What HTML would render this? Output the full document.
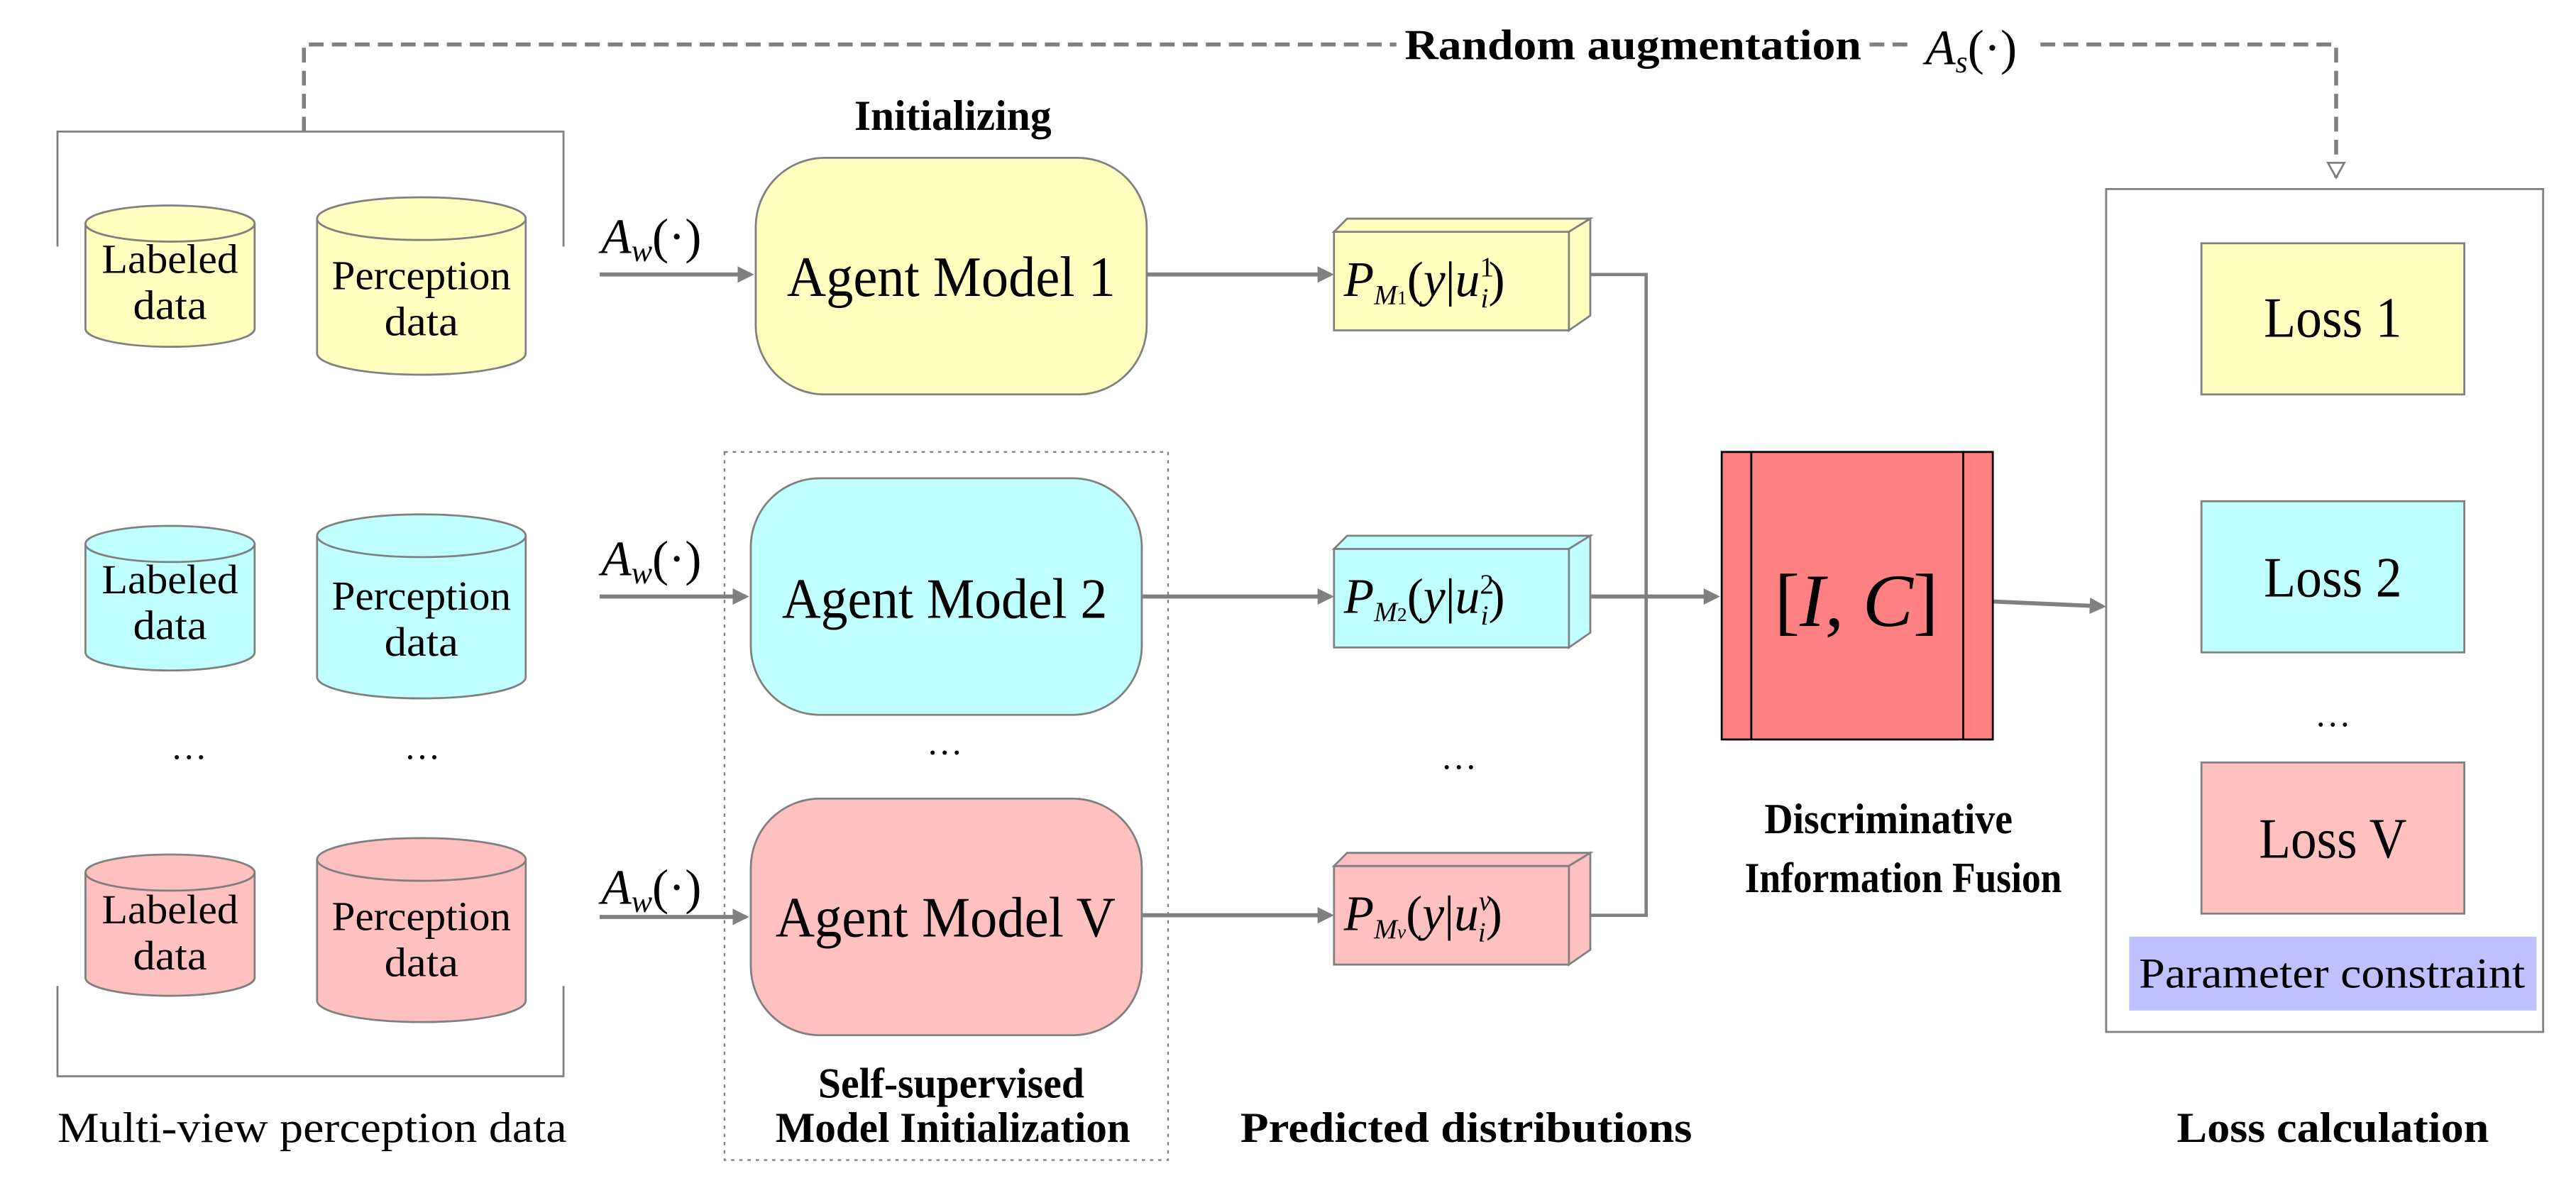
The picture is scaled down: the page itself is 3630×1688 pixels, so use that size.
<!DOCTYPE html>
<html><head><meta charset="utf-8"><style>
html,body{margin:0;padding:0;background:#fff;}
svg{display:block;}
text{font-family:"Liberation Serif",serif;fill:#000;}
.b{font-weight:bold;}
.m{font-style:italic;}
</style></head><body>
<svg width="3630" height="1688" viewBox="0 0 1568 729" xmlns="http://www.w3.org/2000/svg">
<defs>
<marker id="ar" markerWidth="10" markerHeight="10" refX="8" refY="5" orient="auto" markerUnits="userSpaceOnUse"><path d="M0,0 L10,5 L0,10 z" fill="#808080"/></marker>
<marker id="ao" markerWidth="12" markerHeight="12" refX="10" refY="6" orient="auto" markerUnits="userSpaceOnUse"><path d="M1,1 L10,6 L1,11 z" fill="#fff" stroke="#808080" stroke-width="1.2"/></marker>
</defs>
<g stroke="#808080" fill="none">
<path d="M185,80 V27 H850" stroke-width="2.4" stroke-dasharray="9,5"/>
<path d="M1138,27 H1166" stroke-width="2.4" stroke-dasharray="9,5"/>
<path d="M1242,27 H1422 V108" stroke-width="2.4" stroke-dasharray="9,5" marker-end="url(#ao)"/>
<path d="M35,150 V80 H343 V150" stroke-width="1.2"/>
<path d="M35,600 V655 H343 V600" stroke-width="1.2"/>
<rect x="441" y="275" width="270" height="431" stroke-width="1" stroke-dasharray="2,3"/>
<path d="M365,167 H457" stroke-width="2.5" marker-end="url(#ar)"/>
<path d="M365,363 H454" stroke-width="2.5" marker-end="url(#ar)"/>
<path d="M365,558 H454" stroke-width="2.5" marker-end="url(#ar)"/>
<path d="M698,167 H810" stroke-width="2.5" marker-end="url(#ar)"/>
<path d="M695,363 H810" stroke-width="2.5" marker-end="url(#ar)"/>
<path d="M695,557 H810" stroke-width="2.5" marker-end="url(#ar)"/>
<path d="M968,167 H1002 V557 H968" stroke-width="2"/>
<path d="M968,363 H1045" stroke-width="2.5" marker-end="url(#ar)"/>
<path d="M1213,366 L1280,369" stroke-width="2.5" marker-end="url(#ar)"/>
<rect x="1282" y="115" width="266" height="513" stroke-width="1.2"/>
</g>
<g stroke="#808080" stroke-width="1.2">
<g fill="#ffffc0">
<path d="M52,136 V200 A51.5,11 0 0 0 155,200 V136"/><ellipse cx="103.5" cy="136" rx="51.5" ry="11"/>
<path d="M193,133 V215 A63.5,13 0 0 0 320,215 V133"/><ellipse cx="256.5" cy="133" rx="63.5" ry="13"/>
</g>
<g fill="#c0ffff">
<path d="M52,331 V397 A51.5,11 0 0 0 155,397 V331"/><ellipse cx="103.5" cy="331" rx="51.5" ry="11"/>
<path d="M193,326 V412 A63.5,13 0 0 0 320,412 V326"/><ellipse cx="256.5" cy="326" rx="63.5" ry="13"/>
</g>
<g fill="#ffc0c0">
<path d="M52,531 V595 A51.5,11 0 0 0 155,595 V531"/><ellipse cx="103.5" cy="531" rx="51.5" ry="11"/>
<path d="M193,523 V609 A63.5,13 0 0 0 320,609 V523"/><ellipse cx="256.5" cy="523" rx="63.5" ry="13"/>
</g>
<rect x="460" y="96" width="238" height="144" rx="42" fill="#ffffc0"/>
<rect x="457" y="291" width="238" height="144" rx="42" fill="#c0ffff"/>
<rect x="457" y="486" width="238" height="144" rx="42" fill="#ffc0c0"/>
<g fill="#ffffc0"><rect x="812" y="141" width="143" height="60"/><path d="M812,141 L820,133 H968 L955,141 Z"/><path d="M955,141 L968,133 V192 L955,201 Z"/></g>
<g fill="#c0ffff"><rect x="812" y="334" width="143" height="60"/><path d="M812,334 L820,326 H968 L955,334 Z"/><path d="M955,334 L968,326 V385 L955,394 Z"/></g>
<g fill="#ffc0c0"><rect x="812" y="527" width="143" height="60"/><path d="M812,527 L820,519 H968 L955,527 Z"/><path d="M955,527 L968,519 V578 L955,587 Z"/></g>
<rect x="1048" y="275" width="165" height="175" fill="#ff8080" stroke="#000" stroke-width="1.2"/>
<line x1="1066" y1="275" x2="1066" y2="450" stroke="#000"/>
<line x1="1195" y1="275" x2="1195" y2="450" stroke="#000"/>
<rect x="1340" y="148" width="160" height="92" fill="#ffffc0"/>
<rect x="1340" y="305" width="160" height="92" fill="#c0ffff"/>
<rect x="1340" y="464" width="160" height="92" fill="#ffc0c0"/>
</g>
<rect x="1296" y="570" width="248" height="45" fill="#c0c0ff"/>
<g font-size="25">
<text x="62" y="166" textLength="83" lengthAdjust="spacingAndGlyphs">Labeled</text><text x="81" y="194" textLength="45" lengthAdjust="spacingAndGlyphs">data</text>
<text x="202" y="176" textLength="109" lengthAdjust="spacingAndGlyphs">Perception</text><text x="234" y="204" textLength="45" lengthAdjust="spacingAndGlyphs">data</text>
<text x="62" y="361" textLength="83" lengthAdjust="spacingAndGlyphs">Labeled</text><text x="81" y="389" textLength="45" lengthAdjust="spacingAndGlyphs">data</text>
<text x="202" y="371" textLength="109" lengthAdjust="spacingAndGlyphs">Perception</text><text x="234" y="399" textLength="45" lengthAdjust="spacingAndGlyphs">data</text>
<text x="62" y="562" textLength="83" lengthAdjust="spacingAndGlyphs">Labeled</text><text x="81" y="590" textLength="45" lengthAdjust="spacingAndGlyphs">data</text>
<text x="202" y="566" textLength="109" lengthAdjust="spacingAndGlyphs">Perception</text><text x="234" y="594" textLength="45" lengthAdjust="spacingAndGlyphs">data</text>
</g>
<g font-size="22" text-anchor="middle">
<text x="115" y="462">…</text><text x="257" y="462">…</text>
<text x="575" y="459">…</text><text x="888" y="468">…</text><text x="1420" y="442">…</text>
</g>
<g font-size="35">
<text x="479" y="180" textLength="200" lengthAdjust="spacingAndGlyphs">Agent Model 1</text>
<text x="476" y="376" textLength="198" lengthAdjust="spacingAndGlyphs">Agent Model 2</text>
<text x="472" y="570" textLength="207" lengthAdjust="spacingAndGlyphs">Agent Model V</text>
<text x="1378" y="205" textLength="84" lengthAdjust="spacingAndGlyphs">Loss 1</text>
<text x="1378" y="363" textLength="84" lengthAdjust="spacingAndGlyphs">Loss 2</text>
<text x="1375" y="522" textLength="90" lengthAdjust="spacingAndGlyphs">Loss V</text>
</g>
<text x="1302" y="601" font-size="26" textLength="235" lengthAdjust="spacingAndGlyphs">Parameter constraint</text>
<g font-size="26" class="b">
<text x="520" y="79" class="b" textLength="120" lengthAdjust="spacingAndGlyphs">Initializing</text>
<text x="498" y="668" class="b" textLength="162" lengthAdjust="spacingAndGlyphs">Self-supervised</text>
<text x="472" y="695" class="b" textLength="216" lengthAdjust="spacingAndGlyphs">Model Initialization</text>
<text x="1074" y="507" class="b" textLength="151" lengthAdjust="spacingAndGlyphs">Discriminative</text>
<text x="1062" y="543" class="b" textLength="193" lengthAdjust="spacingAndGlyphs">Information Fusion</text>
<text x="755" y="695" class="b" textLength="275" lengthAdjust="spacingAndGlyphs">Predicted distributions</text>
<text x="1325" y="695" class="b" textLength="190" lengthAdjust="spacingAndGlyphs">Loss calculation</text>
<text x="855" y="36" class="b" textLength="278" lengthAdjust="spacingAndGlyphs">Random augmentation</text>
</g>
<text x="35" y="695" font-size="26" textLength="310" lengthAdjust="spacingAndGlyphs">Multi-view perception data</text>
<g font-size="30">
<text x="1172" y="39"><tspan class="m">A</tspan><tspan class="m" font-size="19" dy="5">s</tspan><tspan dy="-5">(·)</tspan></text>
<text x="366" y="154"><tspan class="m">A</tspan><tspan class="m" font-size="19" dy="5">w</tspan><tspan dy="-5">(·)</tspan></text>
<text x="366" y="350"><tspan class="m">A</tspan><tspan class="m" font-size="19" dy="5">w</tspan><tspan dy="-5">(·)</tspan></text>
<text x="366" y="550"><tspan class="m">A</tspan><tspan class="m" font-size="19" dy="5">w</tspan><tspan dy="-5">(·)</tspan></text>
</g>
<g font-size="30">
<text x="818" y="180"><tspan class="m">P</tspan><tspan class="m" font-size="17" dy="5">M</tspan><tspan font-size="12">1</tspan><tspan dy="-5">(</tspan><tspan class="m">y</tspan>|<tspan class="m">u</tspan><tspan font-size="17" dy="-12">1</tspan><tspan class="m" font-size="17" dx="-8" dy="19">i</tspan><tspan dy="-7">)</tspan></text>
<text x="818" y="373"><tspan class="m">P</tspan><tspan class="m" font-size="17" dy="5">M</tspan><tspan font-size="12">2</tspan><tspan dy="-5">(</tspan><tspan class="m">y</tspan>|<tspan class="m">u</tspan><tspan font-size="17" dy="-12">2</tspan><tspan class="m" font-size="17" dx="-8" dy="19">i</tspan><tspan dy="-7">)</tspan></text>
<text x="818" y="566"><tspan class="m">P</tspan><tspan class="m" font-size="17" dy="5">M</tspan><tspan class="m" font-size="12">v</tspan><tspan dy="-5">(</tspan><tspan class="m">y</tspan>|<tspan class="m">u</tspan><tspan class="m" font-size="17" dy="-12">v</tspan><tspan class="m" font-size="17" dx="-8" dy="19">i</tspan><tspan dy="-7">)</tspan></text>
</g>
<text x="1130" y="381" font-size="46" text-anchor="middle">[<tspan class="m">I</tspan>, <tspan class="m">C</tspan>]</text>
</svg>
</body></html>
